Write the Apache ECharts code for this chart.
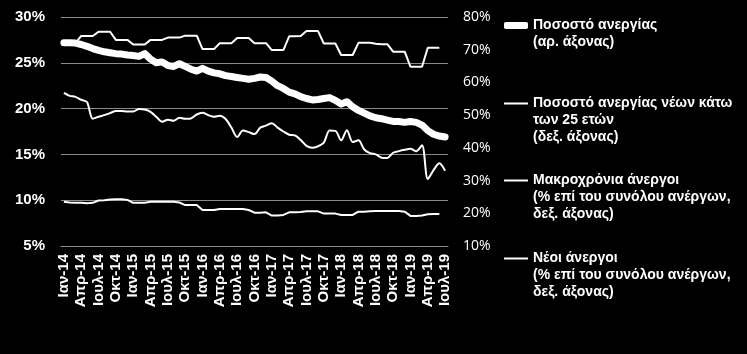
<!DOCTYPE html>
<html>
<head>
<meta charset="utf-8">
<script src="https://cdn.jsdelivr.net/npm/echarts@6/dist/echarts.min.js"></script>
<style>
  html, body { margin: 0; padding: 0; background: #000; }
  #chart { width: 747px; height: 354px; }
</style>
</head>
<body>
<div id="chart"></div>
<script>
// μήνες Ιαν-14 ... Ιουλ-19
const months = [
  'Ιαν-14','Φεβ-14','Μαρ-14','Απρ-14','Μαϊ-14','Ιουν-14','Ιουλ-14','Αυγ-14','Σεπ-14','Οκτ-14','Νοε-14','Δεκ-14',
  'Ιαν-15','Φεβ-15','Μαρ-15','Απρ-15','Μαϊ-15','Ιουν-15','Ιουλ-15','Αυγ-15','Σεπ-15','Οκτ-15','Νοε-15','Δεκ-15',
  'Ιαν-16','Φεβ-16','Μαρ-16','Απρ-16','Μαϊ-16','Ιουν-16','Ιουλ-16','Αυγ-16','Σεπ-16','Οκτ-16','Νοε-16','Δεκ-16',
  'Ιαν-17','Φεβ-17','Μαρ-17','Απρ-17','Μαϊ-17','Ιουν-17','Ιουλ-17','Αυγ-17','Σεπ-17','Οκτ-17','Νοε-17','Δεκ-17',
  'Ιαν-18','Φεβ-18','Μαρ-18','Απρ-18','Μαϊ-18','Ιουν-18','Ιουλ-18','Αυγ-18','Σεπ-18','Οκτ-18','Νοε-18','Δεκ-18',
  'Ιαν-19','Φεβ-19','Μαρ-19','Απρ-19','Μαϊ-19','Ιουν-19','Ιουλ-19'
];

// ποσοστό ανεργίας (αρ. άξονας)
const unemployment = [
  27.2, 27.2, 27.15, 27.0, 26.8, 26.55, 26.35, 26.2, 26.1, 26.0,
  25.95, 25.85, 25.8, 25.7, 26.0, 25.4, 25.0, 25.1, 24.7, 24.6,
  24.9, 24.6, 24.3, 24.1, 24.4, 24.1, 23.9, 23.8, 23.6, 23.5,
  23.4, 23.3, 23.2, 23.3, 23.45, 23.4, 23.0, 22.5, 22.2, 21.8,
  21.6, 21.3, 21.1, 20.95, 21.0, 21.1, 21.2, 20.9, 20.5, 20.75,
  20.2, 19.8, 19.5, 19.2, 19.0, 18.9, 18.75, 18.6, 18.6, 18.5,
  18.6, 18.5, 18.2, 17.6, 17.2, 17.0, 16.9
];

// νέοι κάτω των 25 (δεξ. άξονας)
const youthUnemployment = [
  56.8, 55.9, 55.6, 54.7, 54.0, 48.9, 49.5, 50.0, 50.6, 51.3,
  51.3, 51.1, 51.1, 51.9, 51.7, 51.0, 49.5, 48.0, 48.6, 48.3,
  49.2, 48.9, 49.0, 50.2, 50.7, 50.0, 49.5, 49.8, 48.8, 46.2,
  43.3, 45.3, 44.8, 44.2, 46.2, 46.8, 47.5, 46.2, 45.0, 44.0,
  43.8, 42.4, 40.6, 40.0, 40.5, 41.6, 45.3, 45.2, 42.3, 45.4,
  41.8, 42.3, 39.5, 38.4, 38.0, 37.0, 36.9, 38.5, 39.0, 39.4,
  39.7, 39.0, 40.8, 30.5, 33.2, 35.3, 33.0
];

// μακροχρόνια άνεργοι (% επί του συνόλου)
const longTermShare = [
  72.0, 72.0, 72.0, 74.2, 74.2, 74.2, 75.5, 75.5, 75.5, 73.0,
  73.0, 73.0, 71.6, 71.6, 71.6, 73.0, 73.0, 73.0, 73.7, 73.7,
  73.7, 74.3, 74.3, 74.3, 70.2, 70.2, 70.2, 72.0, 72.0, 72.0,
  73.6, 73.6, 73.6, 72.0, 72.0, 72.0, 69.9, 69.9, 69.9, 74.1,
  74.1, 74.2, 75.7, 75.7, 75.7, 71.9, 71.9, 71.9, 68.4, 68.4,
  68.4, 72.1, 72.1, 72.1, 71.8, 71.7, 71.7, 69.4, 69.4, 69.4,
  64.8, 64.8, 64.8, 70.6, 70.6, 70.6, null
];

// νέοι άνεργοι (% επί του συνόλου)
const newUnemployedShare = [
  23.5, 23.3, 23.2, 23.2, 23.1, 23.2, 23.9, 24.0, 24.2, 24.3,
  24.3, 24.1, 23.2, 23.2, 23.2, 23.5, 23.5, 23.5, 23.5, 23.5,
  23.3, 22.5, 22.5, 22.5, 21.0, 21.0, 21.0, 21.3, 21.3, 21.3,
  21.3, 21.3, 21.0, 20.2, 20.2, 20.3, 19.3, 19.3, 19.5, 20.3,
  20.3, 20.4, 20.6, 20.6, 20.6, 19.9, 19.9, 19.9, 19.5, 19.5,
  19.5, 20.5, 20.5, 20.6, 20.7, 20.7, 20.7, 20.7, 20.7, 20.5,
  19.2, 19.2, 19.3, 19.7, 19.8, 19.8, null
];

const seriesNames = [
  'Ποσοστό ανεργίας',
  'Ποσοστό ανεργίας νέων',
  'Μακροχρόνια άνεργοι',
  'Νέοι άνεργοι'
];

const legendTexts = [
  ['Ποσοστό ανεργίας', '(αρ. άξονας)'],
  ['Ποσοστό ανεργίας νέων κάτω', 'των 25 ετών', '(δεξ. άξονας)'],
  ['Μακροχρόνια άνεργοι', '(% επί του συνόλου ανέργων,', 'δεξ. άξονας)'],
  ['Νέοι άνεργοι', '(% επί του συνόλου ανέργων,', 'δεξ. άξονας)']
];
const legendIconY = [25, 103, 180, 258];

const chart = echarts.init(document.getElementById('chart'));

const LINE_H = 17;
const gridColor = '#8a8a8a';

// one legend per item so the icon sits on the first text line
const legends = seriesNames.map((name, i) => {
  const lines = legendTexts[i];
  const blockH = (2 * lines.length - 1) * LINE_H;
  const thick = i === 0;
  return {
    data: [name],
    left: 504,
    top: Math.round(legendIconY[i] - blockH / 2),
    padding: 0,
    icon: thick ? 'roundRect' : 'rect',
    itemWidth: 24,
    itemHeight: thick ? 7 : 2,
    itemStyle: { color: '#fff', borderWidth: 0 },
    selectedMode: false,
    formatter: () => '\n'.repeat(lines.length - 1) + lines.join('\n'),
    textStyle: {
      color: '#fff',
      fontSize: 14,
      lineHeight: LINE_H,
      fontFamily: 'Liberation Sans, Arial, sans-serif',
      fontWeight: 'bold'
    }
  };
});

const option = {
  backgroundColor: '#000',
  animation: false,
  legend: legends,
  grid: { left: 61, right: 299, top: 17, bottom: 108 },
  xAxis: {
    type: 'category',
    data: months,
    boundaryGap: true,
    axisLine: { lineStyle: { color: gridColor, width: 1 } },
    axisTick: { interval: 2, length: 4, lineStyle: { color: gridColor } },
    axisLabel: {
      interval: 2,
      rotate: 90,
      margin: 8,
      color: '#fff',
      fontSize: 15,
      fontWeight: 'bold',
      fontFamily: 'Liberation Sans, Arial, sans-serif'
    }
  },
  yAxis: [
    {
      type: 'value',
      min: 5, max: 30, interval: 5,
      axisLine: { show: false },
      axisTick: { show: false },
      splitLine: { lineStyle: { color: gridColor, width: 1 } },
      axisLabel: {
        formatter: '{value}%',
        margin: 16,
        color: '#fff',
        fontSize: 15,
        fontWeight: 'bold',
        fontFamily: 'Liberation Sans, Arial, sans-serif'
      }
    },
    {
      type: 'value',
      min: 10, max: 80, interval: 10,
      axisLine: { show: false },
      axisTick: { show: false },
      splitLine: { show: false },
      axisLabel: {
        formatter: '{value}%',
        margin: 15,
        color: '#fff',
        fontSize: 14,
        fontFamily: 'Open Sans, sans-serif'
      }
    }
  ],
  series: [
    {
      name: seriesNames[0],
      type: 'line',
      yAxisIndex: 0,
      data: unemployment,
      symbol: 'none',
      z: 5,
      lineStyle: { color: '#fff', width: 7, cap: 'round', join: 'round' },
      itemStyle: { color: '#fff' }
    },
    {
      name: seriesNames[1],
      type: 'line',
      yAxisIndex: 1,
      data: youthUnemployment,
      symbol: 'none',
      smooth: 0.3,
      lineStyle: { color: '#fff', width: 2 },
      itemStyle: { color: '#fff' }
    },
    {
      name: seriesNames[2],
      type: 'line',
      yAxisIndex: 1,
      data: longTermShare,
      symbol: 'none',
      lineStyle: { color: '#fff', width: 2 },
      itemStyle: { color: '#fff' }
    },
    {
      name: seriesNames[3],
      type: 'line',
      yAxisIndex: 1,
      data: newUnemployedShare,
      symbol: 'none',
      lineStyle: { color: '#fff', width: 2 },
      itemStyle: { color: '#fff' }
    }
  ]
};

chart.setOption(option);
</script>
</body>
</html>
